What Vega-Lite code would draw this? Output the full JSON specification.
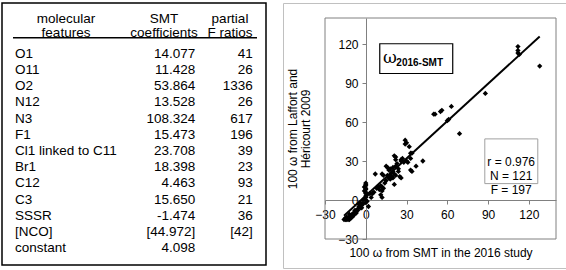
{
  "$schema": "https://vega.github.io/schema/vega-lite/v6.json",
  "padding": {"left": 1, "top": 2, "right": 0, "bottom": 0},
  "background": "white",
  "spacing": 15,
  "config": {
    "font": "Liberation Sans",
    "view": {"stroke": null},
    "text": {"font": "Liberation Sans", "color": "black"}
  },
  "datasets": {
    "table": [
      {"row": 1, "feature": "O1", "coef": "14.077", "F": "41"},
      {"row": 2, "feature": "O11", "coef": "11.428", "F": "26"},
      {"row": 3, "feature": "O2", "coef": "53.864", "F": "1336"},
      {"row": 4, "feature": "N12", "coef": "13.528", "F": "26"},
      {"row": 5, "feature": "N3", "coef": "108.324", "F": "617"},
      {"row": 6, "feature": "F1", "coef": "15.473", "F": "196"},
      {"row": 7, "feature": "Cl1 linked to C11", "coef": "23.708", "F": "39"},
      {"row": 8, "feature": "Br1", "coef": "18.398", "F": "23"},
      {"row": 9, "feature": "C12", "coef": "4.463", "F": "93"},
      {"row": 10, "feature": "C3", "coef": "15.650", "F": "21"},
      {"row": 11, "feature": "SSSR", "coef": "-1.474", "F": "36"},
      {"row": 12, "feature": "[NCO]", "coef": "[44.972]", "F": "[42]"},
      {"row": 13, "feature": "constant", "coef": "4.098", "F": ""}
    ],
    "points": [
      {"x": 112, "y": 118}, {"x": 112, "y": 115}, {"x": 112, "y": 113}, {"x": 113, "y": 112},
      {"x": 128, "y": 103}, {"x": 88, "y": 82}, {"x": 50, "y": 66}, {"x": 51, "y": 66},
      {"x": 56, "y": 69}, {"x": 55, "y": 68}, {"x": 63, "y": 72}, {"x": 60, "y": 61},
      {"x": 61, "y": 62}, {"x": 69, "y": 51}, {"x": 29, "y": 46}, {"x": 29, "y": 43},
      {"x": 30, "y": 44}, {"x": 32, "y": 41}, {"x": 34, "y": 36}, {"x": 33, "y": 36},
      {"x": 21, "y": 34}, {"x": 22, "y": 31}, {"x": 22, "y": 33}, {"x": 26, "y": 30},
      {"x": 27, "y": 32}, {"x": 26, "y": 31}, {"x": 30, "y": 30}, {"x": 31, "y": 29},
      {"x": 42, "y": 30}, {"x": 37, "y": 26}, {"x": 33, "y": 23}, {"x": 34, "y": 22},
      {"x": 15, "y": 26}, {"x": 16, "y": 25}, {"x": 17, "y": 23}, {"x": 18, "y": 24},
      {"x": 19, "y": 21}, {"x": 20, "y": 22}, {"x": 18, "y": 19}, {"x": 19, "y": 18},
      {"x": 20, "y": 17}, {"x": 17, "y": 17}, {"x": 21, "y": 20}, {"x": 22, "y": 19},
      {"x": 16, "y": 19}, {"x": 18, "y": 16}, {"x": 21, "y": 12}, {"x": 26, "y": 17},
      {"x": 25, "y": 18}, {"x": 7, "y": 20}, {"x": 12, "y": 20}, {"x": 13, "y": 19},
      {"x": 22, "y": 26}, {"x": 23, "y": 28}, {"x": 20, "y": 25}, {"x": 24, "y": 22},
      {"x": 28, "y": 29}, {"x": 14, "y": 13}, {"x": 12, "y": 10}, {"x": 12, "y": 7},
      {"x": 11, "y": 4}, {"x": 12, "y": 2}, {"x": 13, "y": 9}, {"x": 11, "y": 11},
      {"x": 10, "y": 8}, {"x": 6, "y": 6}, {"x": 5, "y": 5}, {"x": 3, "y": 5},
      {"x": 8, "y": 9}, {"x": 0, "y": 13}, {"x": 0, "y": 12}, {"x": 0, "y": 11},
      {"x": 0, "y": 9}, {"x": 0, "y": 8}, {"x": 0, "y": 6}, {"x": 0, "y": 5},
      {"x": 0, "y": 3}, {"x": 0, "y": 2}, {"x": -1, "y": 7}, {"x": -1, "y": 10},
      {"x": 0, "y": 0}, {"x": 1, "y": -1}, {"x": -1, "y": 1}, {"x": 2, "y": -5},
      {"x": 1, "y": 4}, {"x": 0, "y": -2}, {"x": -2, "y": -3}, {"x": -3, "y": -4},
      {"x": -5, "y": -5}, {"x": -6, "y": -7}, {"x": -7, "y": -8}, {"x": -8, "y": -8},
      {"x": -9, "y": -10}, {"x": -10, "y": -11}, {"x": -11, "y": -12}, {"x": -12, "y": -13},
      {"x": -13, "y": -14}, {"x": -14, "y": -15}, {"x": -15, "y": -15}, {"x": -15, "y": -14},
      {"x": -14, "y": -13}, {"x": -13, "y": -15}, {"x": -12, "y": -15}, {"x": -11, "y": -14},
      {"x": -10, "y": -13}, {"x": -8, "y": -10}, {"x": -6, "y": -8}, {"x": -4, "y": -6},
      {"x": -4, "y": -2}, {"x": -3, "y": -6}, {"x": -16, "y": -15}, {"x": -12, "y": -11},
      {"x": -9, "y": -12}, {"x": -7, "y": -10}, {"x": -5, "y": -3}, {"x": -2, "y": 0},
      {"x": 4, "y": 2}, {"x": 9, "y": 10}, {"x": 15, "y": 15}, {"x": 24, "y": 24},
      {"x": 33, "y": 32}
    ],
    "fit": [{"x": -16, "y": -12.1}, {"x": 128, "y": 125.8}]
  },
  "hconcat": [
    {
      "width": 264,
      "height": 262,
      "view": {"stroke": "black", "strokeWidth": 1.5},
      "layer": [
        {
          "data": {"name": "table"},
          "mark": {"type": "text", "align": "left", "baseline": "middle", "fontSize": 13.5, "dx": 2},
          "encoding": {
            "x": {"datum": "feature", "type": "ordinal", "scale": {"type": "point", "domain": ["feature", "coef", "F"], "range": [11, 255], "padding": 0}, "axis": null},
            "y": {"field": "row", "type": "quantitative", "scale": {"domain": [-2.15, 14.05], "reverse": true, "nice": false, "zero": false}, "axis": null},
            "text": {"field": "feature"}
          }
        },
        {
          "data": {"name": "table"},
          "mark": {"type": "text", "align": "right", "baseline": "middle", "fontSize": 13.5, "dx": 60.3},
          "encoding": {
            "x": {"datum": "coef", "type": "ordinal"},
            "y": {"field": "row", "type": "quantitative"},
            "text": {"field": "coef"}
          }
        },
        {
          "data": {"name": "table"},
          "mark": {"type": "text", "align": "right", "baseline": "middle", "fontSize": 13.5, "dx": -4.3},
          "encoding": {
            "x": {"datum": "F", "type": "ordinal"},
            "y": {"field": "row", "type": "quantitative"},
            "text": {"field": "F"}
          }
        },
        {
          "data": {"values": [{}]},
          "mark": {"type": "text", "align": "center", "baseline": "middle", "fontSize": 13.5, "dx": 53, "dy": -3, "lineHeight": 14, "text": ["molecular", "features"]},
          "encoding": {
            "x": {"datum": "feature", "type": "ordinal"},
            "y": {"datum": -1, "type": "quantitative"}
          }
        },
        {
          "data": {"values": [{}]},
          "mark": {"type": "text", "align": "center", "baseline": "middle", "fontSize": 13.5, "dx": 29, "dy": -3, "lineHeight": 14, "text": ["SMT", "coefficients"]},
          "encoding": {
            "x": {"datum": "coef", "type": "ordinal"},
            "y": {"datum": -1, "type": "quantitative"}
          }
        },
        {
          "data": {"values": [{}]},
          "mark": {"type": "text", "align": "center", "baseline": "middle", "fontSize": 13.5, "dx": -27, "dy": -3, "lineHeight": 14, "text": ["partial", "F ratios"]},
          "encoding": {
            "x": {"datum": "F", "type": "ordinal"},
            "y": {"datum": -1, "type": "quantitative"}
          }
        },
        {
          "data": {"values": [{}]},
          "mark": {"type": "rule", "color": "black", "strokeWidth": 1.5},
          "encoding": {
            "x": {"datum": "feature", "type": "ordinal"},
            "x2": {"datum": "F"},
            "y": {"datum": 0, "type": "quantitative"}
          }
        }
      ]
    },
    {
      "width": 285,
      "height": 265,
      "view": {"stroke": "#c0c0c0", "strokeWidth": 1},
      "layer": [
        {
          "data": {"values": [{}]},
          "mark": {"type": "rect", "fill": null, "stroke": "#808080", "strokeWidth": 1},
          "encoding": {
            "x": {"datum": -30, "type": "quantitative", "scale": {"domain": [-30, 140], "range": [42, 273], "nice": false, "zero": false}},
            "x2": {"datum": 140},
            "y": {"datum": -30, "type": "quantitative", "scale": {"domain": [-30, 140], "range": [236, 15], "nice": false, "zero": false}},
            "y2": {"datum": 140}
          }
        },
        {
          "data": {"name": "points"},
          "mark": {"type": "point", "shape": "diamond", "filled": true, "color": "black", "size": 28, "opacity": 1},
          "encoding": {
            "x": {
              "field": "x", "type": "quantitative",
              "axis": {
                "title": "100 ω from SMT in the 2016 study",
                "values": [-30, 0, 30, 60, 90, 120],
                "offset": -68, "grid": false,
                "domainColor": "#808080", "tickColor": "#808080", "tickSize": 4,
                "labelFontSize": 12, "labelColor": "black", "labelPadding": 5,
                "labelFlush": false, "labelOverlap": false, "labelFont": "Liberation Sans",
                "titleFontSize": 12, "titleFontWeight": "normal", "titleColor": "black", "titleFont": "Liberation Sans",
                "titleY": 47, "titleBaseline": "top"
              }
            },
            "y": {
              "field": "y", "type": "quantitative",
              "axis": {
                "title": ["100 ω from Laffort and", "Héricourt 2009"],
                "values": [-30, 0, 30, 60, 90, 120],
                "offset": -83, "grid": false,
                "domainColor": "#808080", "tickColor": "#808080", "tickSize": 4,
                "labelFontSize": 12, "labelColor": "black", "labelPadding": 4,
                "labelFlush": false, "labelOverlap": false, "labelFont": "Liberation Sans",
                "titleFontSize": 12, "titleFontWeight": "normal", "titleColor": "black", "titleFont": "Liberation Sans",
                "titleX": -67, "titleBaseline": "bottom", "titleLineHeight": 13
              }
            }
          }
        },
        {
          "data": {"name": "fit"},
          "mark": {"type": "line", "color": "black", "strokeWidth": 2},
          "encoding": {
            "x": {"field": "x", "type": "quantitative"},
            "y": {"field": "y", "type": "quantitative"}
          }
        },
        {
          "data": {"values": [{}]},
          "mark": {"type": "rect", "fill": "white", "stroke": "black", "strokeWidth": 1.2},
          "encoding": {
            "x": {"datum": 10.3, "type": "quantitative"},
            "x2": {"datum": 64},
            "y": {"datum": 97.3, "type": "quantitative"},
            "y2": {"datum": 120.2}
          }
        },
        {
          "data": {"values": [{}]},
          "mark": {"type": "text", "text": "ω", "fontSize": 17, "align": "center", "baseline": "middle", "font": "DejaVu Serif"},
          "encoding": {
            "x": {"datum": 17.7, "type": "quantitative"},
            "y": {"datum": 109, "type": "quantitative"}
          }
        },
        {
          "data": {"values": [{}]},
          "mark": {"type": "text", "text": "2016-SMT", "fontSize": 10, "fontWeight": "bold", "align": "left", "baseline": "middle"},
          "encoding": {
            "x": {"datum": 22.5, "type": "quantitative"},
            "y": {"datum": 105.7, "type": "quantitative"}
          }
        },
        {
          "data": {"values": [{}]},
          "mark": {"type": "rect", "fill": "white", "stroke": "#a0a0a0", "strokeWidth": 1},
          "encoding": {
            "x": {"datum": 87.6, "type": "quantitative"},
            "x2": {"datum": 126.6},
            "y": {"datum": 12.6, "type": "quantitative"},
            "y2": {"datum": 47}
          }
        },
        {
          "data": {"values": [{}]},
          "mark": {"type": "text", "text": ["r = 0.976", "N = 121", "F = 197"], "fontSize": 12, "lineHeight": 14, "align": "center", "baseline": "middle"},
          "encoding": {
            "x": {"datum": 107, "type": "quantitative"},
            "y": {"datum": 29.5, "type": "quantitative"}
          }
        }
      ]
    }
  ]
}
